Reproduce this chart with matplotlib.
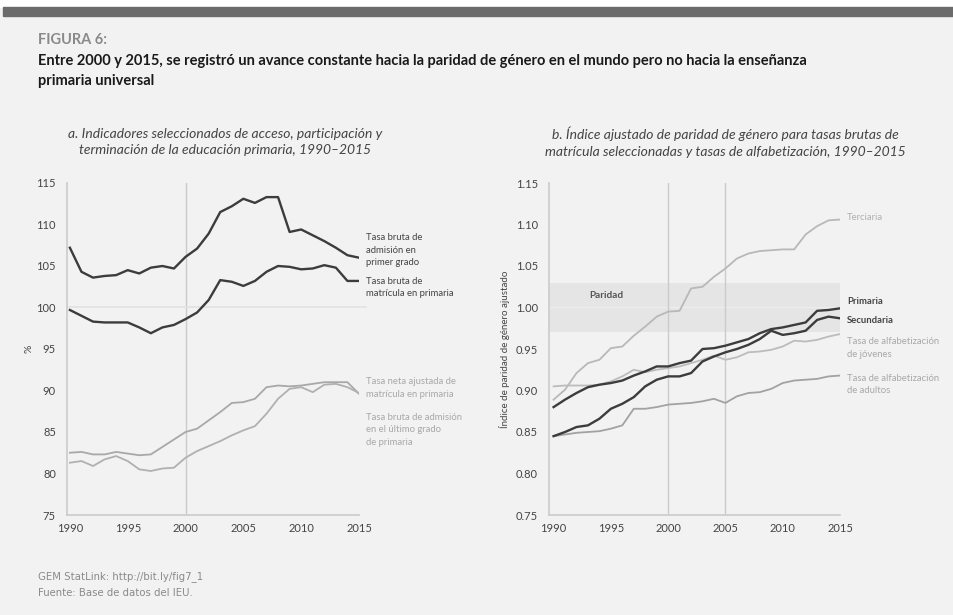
import matplotlib
matplotlib.use("Agg")
import matplotlib.pyplot as plt
from matplotlib.patches import Rectangle

plt.rcParams["font.family"] = ["Lato", "DejaVu Sans"]

years = list(range(1990, 2016))

# panel a (%)
adm_primer = [107.2, 104.3, 103.6, 103.8, 103.9, 104.5, 104.1, 104.8, 105.0, 104.7,
              106.1, 107.1, 108.9, 111.5, 112.2, 113.1, 112.6, 113.3, 113.3, 109.1,
              109.4, 108.7, 108.0, 107.2, 106.3, 106.0]
mat_prim = [99.7, 99.0, 98.3, 98.2, 98.2, 98.2, 97.6, 96.9, 97.6, 97.9,
            98.6, 99.4, 100.9, 103.3, 103.1, 102.6, 103.2, 104.3, 105.0, 104.9,
            104.6, 104.7, 105.1, 104.8, 103.2, 103.2]
neta_aj = [82.5, 82.6, 82.3, 82.3, 82.6, 82.4, 82.2, 82.3, 83.2, 84.1,
           85.0, 85.4, 86.4, 87.4, 88.5, 88.6, 89.0, 90.4, 90.6, 90.5,
           90.6, 90.8, 91.0, 91.0, 91.0, 89.6]
adm_ultimo = [81.3, 81.5, 80.9, 81.7, 82.1, 81.5, 80.5, 80.3, 80.6, 80.7,
              81.9, 82.7, 83.3, 83.9, 84.6, 85.2, 85.7, 87.2, 89.0, 90.2,
              90.4, 89.8, 90.7, 90.8, 90.4, 89.7]

# panel b (adjusted GPI)
terciaria = [0.889, 0.901, 0.921, 0.933, 0.937, 0.951, 0.953, 0.966, 0.977, 0.989,
             0.995, 0.996, 1.023, 1.025, 1.037, 1.047, 1.059, 1.065, 1.068, 1.069,
             1.070, 1.070, 1.088, 1.098, 1.105, 1.106]
primaria = [0.880, 0.889, 0.897, 0.904, 0.907, 0.909, 0.912, 0.918, 0.923, 0.929,
            0.929, 0.933, 0.936, 0.950, 0.951, 0.954, 0.958, 0.962, 0.969, 0.974,
            0.976, 0.979, 0.982, 0.996, 0.997, 0.999]
secundaria = [0.845, 0.850, 0.856, 0.858, 0.866, 0.878, 0.884, 0.892, 0.905, 0.913,
              0.917, 0.917, 0.921, 0.935, 0.941, 0.946, 0.950, 0.955, 0.962, 0.972,
              0.967, 0.969, 0.972, 0.985, 0.989, 0.987]
alf_jovenes = [0.905, 0.906, 0.906, 0.906, 0.907, 0.911, 0.917, 0.925, 0.922, 0.925,
               0.927, 0.929, 0.933, 0.937, 0.942, 0.937, 0.940, 0.946, 0.947, 0.949,
               0.953, 0.960, 0.959, 0.961, 0.965, 0.968]
alf_adultos = [0.845, 0.847, 0.849, 0.850, 0.851, 0.854, 0.858, 0.878, 0.878, 0.880,
               0.883, 0.884, 0.885, 0.887, 0.890, 0.885, 0.893, 0.897, 0.898, 0.902,
               0.909, 0.912, 0.913, 0.914, 0.917, 0.918]

BG = "#f2f2f2"
DARK = "#3c3c3c"
GRID = "#cbcbcb"

fig = plt.figure(figsize=(9.54, 6.15), dpi=100, facecolor=BG)
fig.patches.append(Rectangle((0, 1 - 7 / 615), 1, 7 / 615, transform=fig.transFigure,
                             color="white", zorder=0))
fig.patches.append(Rectangle((3 / 954, 1 - 16 / 615), 1, 9 / 615, transform=fig.transFigure,
                             color="#6b6b6b", zorder=0))

fig.text(38 / 954, 1 - 40 / 615, "FIGURA 6:", fontsize=10.5, fontweight="bold",
         color="#8a8a8a", va="center")
fig.text(38 / 954, 1 - 61 / 615,
         "Entre 2000 y 2015, se registró un avance constante hacia la paridad de género "
         "en el mundo pero no hacia la enseñanza", fontsize=10.5, fontweight="bold",
         color="#1a1a1a", va="center")
fig.text(38 / 954, 1 - 81 / 615, "primaria universal", fontsize=10.5, fontweight="bold",
         color="#1a1a1a", va="center")

fig.text(225 / 954, 1 - 142 / 615,
         "a. Indicadores seleccionados de acceso, participación y\n"
         "terminación de la educación primaria, 1990–2015",
         fontsize=10, style="italic", color="#444444", ha="center", va="center",
         linespacing=1.45)
fig.text(725 / 954, 1 - 142 / 615,
         "b. Índice ajustado de paridad de género para tasas brutas de\n"
         "matrícula seleccionadas y tasas de alfabetización, 1990–2015",
         fontsize=10, style="italic", color="#444444", ha="center", va="center",
         linespacing=1.45)

fig.text(38 / 954, 1 - 577 / 615, "GEM StatLink: http://bit.ly/fig7_1", fontsize=7.3,
         color="#8a8a8a", va="center", family="DejaVu Sans")
fig.text(38 / 954, 1 - 593 / 615, "Fuente: Base de datos del IEU.", fontsize=7.3,
         color="#8a8a8a", va="center", family="DejaVu Sans")

bottom = 1 - 515 / 615
height = 332 / 615
ax1 = fig.add_axes([67 / 954, bottom, 292 / 954, height])
ax2 = fig.add_axes([549 / 954, bottom, 291 / 954, height])

for ax in (ax1, ax2):
    ax.set_facecolor(BG)
    for s in ("top", "right"):
        ax.spines[s].set_visible(False)
    for s in ("left", "bottom"):
        ax.spines[s].set_color(GRID)
        ax.spines[s].set_linewidth(1.2)
    ax.tick_params(length=0, labelsize=8, colors="#444444")
    ax.tick_params(axis="y", pad=8)
    ax.tick_params(axis="x", pad=6)
    ax.set_xticks([1990, 1995, 2000, 2005, 2010, 2015])

# panel a
ax1.set_xlim(1989.75, 2015)
ax1.set_ylim(75, 115)
ax1.set_yticks(range(75, 116, 5))
ax1.axvline(2000, color=GRID, lw=1, zorder=1)
ax1.plot([1989.75, 2015.6], [100, 100], color="#e2e2e2", lw=1.2, clip_on=False, zorder=1)
ax1.plot(years, adm_primer, color=DARK, lw=1.7, zorder=3)
ax1.plot(years, mat_prim, color=DARK, lw=1.7, zorder=3)
ax1.plot(years, neta_aj, color="#a8a8a8", lw=1.3, zorder=2)
ax1.plot(years, adm_ultimo, color="#b0b0b0", lw=1.3, zorder=2)
ax1.set_ylabel("%", fontsize=7.5, color="#444444", labelpad=2)

lab = dict(fontsize=6.8, va="center", ha="left", linespacing=1.5, clip_on=False)
ax1.text(2015.6, 106.9, "Tasa bruta de\nadmisión en\nprimer grado", color="#444444", **lab)
ax1.text(2015.6, 102.4, "Tasa bruta de\nmatrícula en primaria", color="#444444", **lab)
ax1.text(2015.6, 90.3, "Tasa neta ajustada de\nmatrícula en primaria", color="#a8a8a8", **lab)
ax1.text(2015.6, 85.3, "Tasa bruta de admisión\nen el último grado\nde primaria",
         color="#a8a8a8", **lab)

# panel b
ax2.set_xlim(1989.6, 2015)
ax2.set_ylim(0.75, 1.15)
ax2.set_yticks([0.75, 0.80, 0.85, 0.90, 0.95, 1.00, 1.05, 1.10, 1.15])
ax2.set_yticklabels(["0.75", "0.80", "0.85", "0.90", "0.95", "1.00", "1.05", "1.10", "1.15"])
ax2.axhspan(0.97, 1.03, color="#e5e5e5", lw=0, zorder=0)
ax2.axhline(1.0, color="#ededed", lw=1, zorder=0.5)
ax2.axvline(2000, color=GRID, lw=1, zorder=1)
ax2.axvline(2005, color=GRID, lw=1, zorder=1)
ax2.text(1994.6, 1.015, "Paridad", fontsize=7.2, fontweight="bold", color="#555555",
         ha="center", va="center")
ax2.plot(years, terciaria, color="#b8b8b8", lw=1.3, zorder=2)
ax2.plot(years, alf_jovenes, color="#bcbcbc", lw=1.3, zorder=2)
ax2.plot(years, alf_adultos, color="#a2a2a2", lw=1.3, zorder=2)
ax2.plot(years, secundaria, color=DARK, lw=1.7, zorder=3)
ax2.plot(years, primaria, color=DARK, lw=1.7, zorder=3)
ax2.set_ylabel("Índice de paridad de género ajustado", fontsize=7, color="#444444",
               labelpad=4)

ax2.text(2015.6, 1.109, "Terciaria", color="#b0b0b0", **lab)
ax2.text(2015.6, 1.007, "Primaria", color="#444444", fontweight="bold", **lab)
ax2.text(2015.6, 0.984, "Secundaria", color="#444444", fontweight="bold", **lab)
ax2.text(2015.6, 0.951, "Tasa de alfabetización\nde jóvenes", color="#a8a8a8", **lab)
ax2.text(2015.6, 0.907, "Tasa de alfabetización\nde adultos", color="#a8a8a8", **lab)

fig.savefig("out.png", dpi=100, facecolor=BG)
